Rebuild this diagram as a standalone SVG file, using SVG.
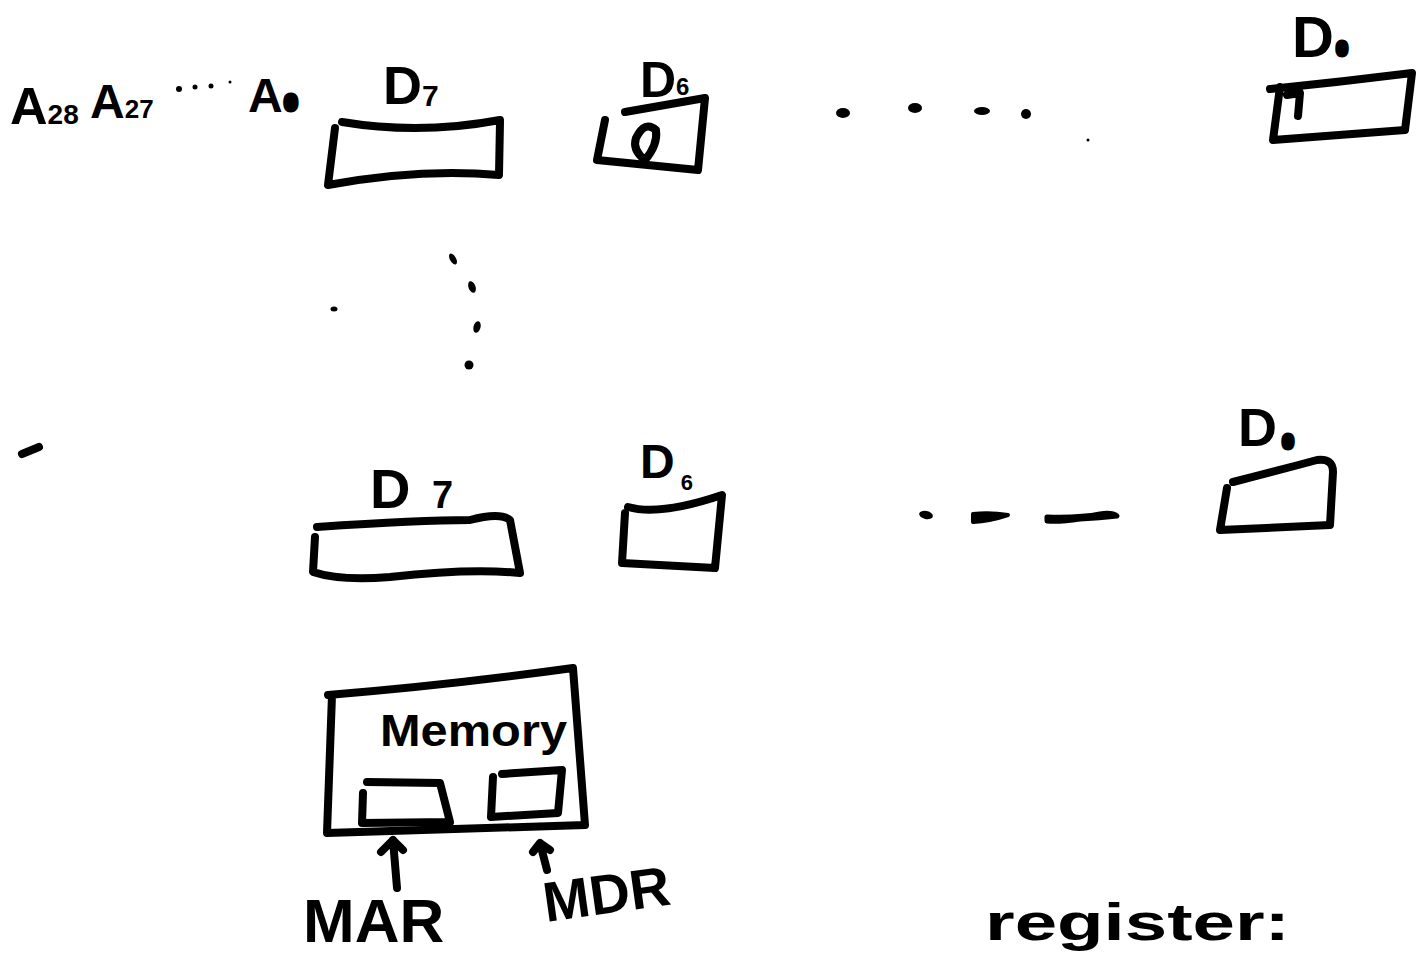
<svg xmlns="http://www.w3.org/2000/svg" width="1421" height="954" viewBox="0 0 1421 954">
<style>
.s{fill:none;stroke:#000;stroke-width:8;stroke-linecap:round;stroke-linejoin:round}
.t{font-family:"Liberation Sans",Arial,sans-serif;font-weight:bold;fill:#000}
.sub0{stroke:#000;stroke-width:5;stroke-linejoin:round}
.dot{fill:#000}
</style>
<rect width="1421" height="954" fill="#fff"/>

<g id="address-label">
<text class="t" x="10" y="124" font-size="52">A<tspan font-size="28">28</tspan></text>
<text class="t" x="90" y="118" font-size="48">A<tspan font-size="26">27</tspan></text>
<circle class="dot" cx="179" cy="89" r="3"/><circle class="dot" cx="195" cy="87" r="2.5"/><circle class="dot" cx="211" cy="86" r="2.5"/><circle class="dot" cx="230" cy="82" r="1.5"/>
<text class="t" x="248" y="112" font-size="48">A<tspan class="sub0" font-size="22" dx="2" dy="-2">0</tspan></text>
</g>

<g id="row1-D7">
<text class="t" x="383" y="104" font-size="54">D<tspan font-size="30" dy="2">7</tspan></text>
<path class="s" d="M342,122 Q420,135 500,120 M335,128 L328,185 Q420,168 499,175 M500,122 L499,174"/>
</g>

<g id="row1-D6">
<text class="t" x="640" y="97" font-size="50">D<tspan font-size="24" dy="-2">6</tspan></text>
<path class="s" d="M625,112 Q665,105 705,98 L698,170 L597,160 M605,120 L597,160"/>
<path class="s" d="M645,160 Q632,150 636,138 Q645,120 656,130 Q658,145 645,160" stroke-width="6"/>
</g>

<g id="row1-dots">
<ellipse class="dot" cx="843" cy="113" rx="7" ry="5"/>
<ellipse class="dot" cx="915" cy="108" rx="7" ry="5"/>
<ellipse class="dot" cx="982" cy="111" rx="8" ry="4"/>
<ellipse class="dot" cx="1026" cy="114" rx="5" ry="5"/>
<circle class="dot" cx="1088" cy="140" r="1.5"/>
</g>

<g id="row1-D0">
<text class="t" x="1292" y="57" font-size="58">D<tspan class="sub0" font-size="18" dx="3" dy="-2">0</tspan></text>
<path class="s" d="M1270,89 Q1340,82 1412,73 L1405,130 L1273,140 L1280,87 M1287,95 L1300,93 L1298,116"/>
</g>

<g id="vertical-dots">
<ellipse class="dot" cx="453" cy="259" rx="3" ry="6" transform="rotate(-30 453 259)"/>
<ellipse class="dot" cx="472" cy="287" rx="3.5" ry="6" transform="rotate(-20 472 287)"/>
<ellipse class="dot" cx="477" cy="327" rx="3.5" ry="6" transform="rotate(15 477 327)"/>
<circle class="dot" cx="469" cy="365" r="4.5"/>
<ellipse class="dot" cx="334" cy="309" rx="3.5" ry="2.5"/>
</g>

<g id="dash-left">
<path class="s" d="M22,454 L39,447" stroke-width="9"/>
</g>

<g id="row2-D7">
<text class="t" x="370" y="508" font-size="56">D</text>
<text class="t" x="432" y="508" font-size="38">7</text>
<path class="s" d="M317,527 Q420,520 470,520 Q500,512 510,520 L520,573 Q470,568 390,577 Q340,581 313,572 L315,537"/>
</g>

<g id="row2-D6">
<text class="t" x="640" y="478" font-size="48">D<tspan font-size="22" dx="6" dy="12">6</tspan></text>
<path class="s" d="M628,507 Q660,516 722,495 L715,568 L622,563 L625,513"/>
</g>

<g id="row2-dashes">
<ellipse class="dot" cx="926" cy="515" rx="7" ry="4" transform="rotate(12 926 515)"/>
<path d="M973,514 Q990,512 1008,515 Q990,521 973,522 Z" fill="#000" stroke="#000" stroke-width="4" stroke-linejoin="round"/>
<path d="M1047,517 Q1080,518 1100,514 Q1112,512 1117,516 Q1100,518 1080,519 Q1060,522 1047,521 Z" fill="#000" stroke="#000" stroke-width="5" stroke-linejoin="round"/>
</g>

<g id="row2-D0">
<text class="t" x="1238" y="446" font-size="54">D<tspan class="sub0" font-size="18" dx="6" dy="2">0</tspan></text>
<path class="s" d="M1233,482 Q1280,470 1317,460 Q1333,458 1333,472 L1330,525 L1220,530 L1227,488"/>
</g>

<g id="memory">
<path class="s" d="M328,695 Q450,685 573,668 L585,825 L327,833 L332,695"/>
<text class="t" x="380" y="746" font-size="44" textLength="187" lengthAdjust="spacingAndGlyphs">Memory</text>
</g>

<g id="MAR-box">
<path class="s" d="M367,782 L440,783 L450,822 L362,823 L363,793"/>
</g>

<g id="MDR-box">
<path class="s" d="M502,774 L562,770 L558,813 L491,817 L493,777"/>
</g>

<g id="connectors">
<path class="s" d="M397,888 L393,840 M381,852 L393,840 L403,850" stroke-width="6"/>
<path class="s" d="M547,870 L540,843 M533,852 L540,843 L550,850" stroke-width="6"/>
</g>

<g id="labels">
<text class="t" x="303" y="942" font-size="62">MAR</text>
<text class="t" x="546" y="922" font-size="56" transform="rotate(-8 546 922)">MDR</text>
<text class="t" x="985" y="940" font-size="52" textLength="305" lengthAdjust="spacingAndGlyphs">register:</text>
</g>
</svg>
